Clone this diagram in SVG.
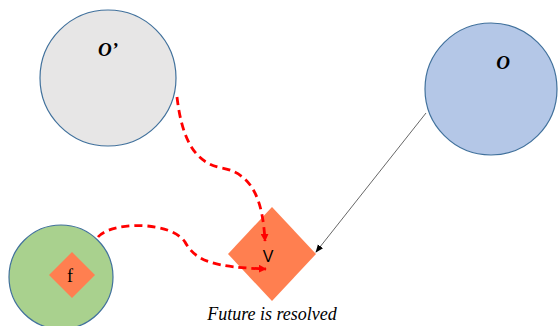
<svg xmlns="http://www.w3.org/2000/svg" width="558" height="326" viewBox="0 0 558 326">
<defs>
<style>
.node{stroke:#41719C;stroke-width:1.2}
.dia{fill:#FF7F50;stroke:none}
.lbl{font-family:"Liberation Serif","Times New Roman",serif;font-weight:bold;font-style:italic;font-size:19px;fill:#000;text-anchor:middle}
.serif{font-family:"Liberation Serif","Times New Roman",serif;fill:#000;text-anchor:middle}
.sans{font-family:"Liberation Sans",Arial,sans-serif;fill:#000;text-anchor:middle}
.red{fill:none;stroke:#FF0000;stroke-width:2.8;stroke-dasharray:8,5}
</style>
<marker id="ra" viewBox="0 0 10 10" refX="9" refY="5" markerWidth="8" markerHeight="8" markerUnits="userSpaceOnUse" orient="auto"><path d="M0,0L10,5L0,10z" fill="#FF0000"/></marker>
<marker id="ka" viewBox="0 0 10 10" refX="9" refY="5" markerWidth="8" markerHeight="8" markerUnits="userSpaceOnUse" orient="auto"><path d="M0,1L10,5L0,9z" fill="#000"/></marker>
</defs>
<g id="node-Oprime">
<circle class="node" cx="108" cy="78" r="68" fill="#E7E6E6"/>
<text class="lbl" x="108" y="56">O’</text>
</g>
<g id="node-O">
<circle class="node" cx="491" cy="89" r="66" fill="#B4C7E7"/>
<text class="lbl" x="503" y="69">O</text>
</g>
<g id="node-green">
<circle class="node" cx="61" cy="277" r="52" fill="#A9D18E"/>
</g>
<g id="node-f">
<polygon class="dia" points="72,252 95,275 72,298 49,275"/>
<text class="serif" x="70" y="282" font-size="18">f</text>
</g>
<g id="node-V">
<polygon class="dia" points="272,207 316,254 272,301 228,254"/>
<text class="sans" x="268" y="262" font-size="16">V</text>
</g>
<g id="connectors">
<path class="red" d="M177,97 C182,140 195,163 222,168 C255,174 263,205 265,241" marker-end="url(#ra)"/>
<path class="red" d="M98,237 C110,222 170,220 185,242 C196,262 215,267 266,269" marker-end="url(#ra)"/>
<line x1="426" y1="113" x2="316" y2="252" stroke="#404040" stroke-width="0.8" marker-end="url(#ka)"/>
</g>
<text class="serif" x="272" y="320" font-style="italic" font-size="18">Future is resolved</text>
</svg>
